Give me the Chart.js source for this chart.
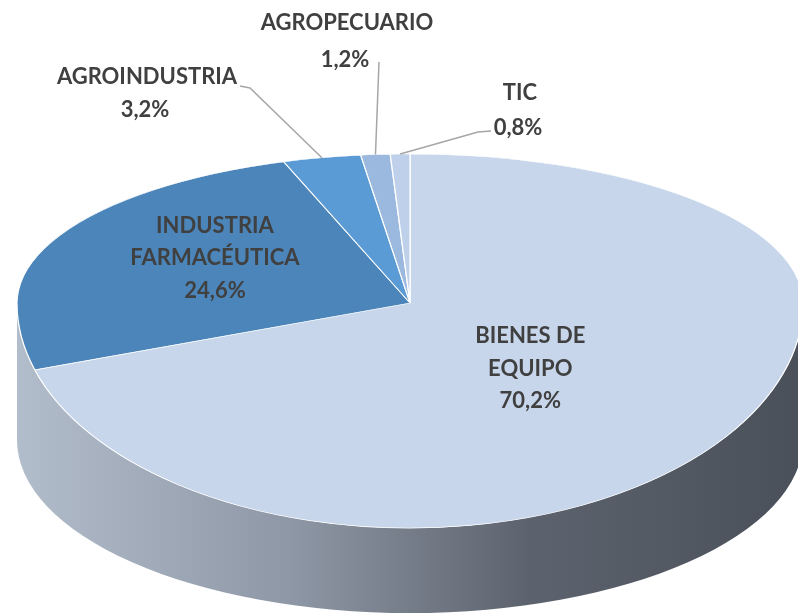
<!DOCTYPE html>
<html lang="es">
<head>
<meta charset="UTF-8">
<title>Distribución por sector</title>
<script src="https://cdn.jsdelivr.net/npm/chart.js@4"></script>
<style>
  html, body { margin: 0; padding: 0; background: #fff; }
  #wrap { width: 798px; height: 613px; position: relative; }
</style>
</head>
<body>
<div id="wrap"><canvas id="pie"></canvas></div>
<script>
const categories = ['BIENES DE EQUIPO', 'INDUSTRIA FARMACÉUTICA', 'AGROINDUSTRIA', 'AGROPECUARIO', 'TIC'];
const labelLines = [['BIENES DE', 'EQUIPO'], ['INDUSTRIA', 'FARMACÉUTICA'], ['AGROINDUSTRIA'], ['AGROPECUARIO'], ['TIC']];
const shares = [70.2, 24.6, 3.2, 1.2, 0.8];
const sliceColors = ['#c7d6ea', '#4b85b9', '#5b9bd5', '#9bb9de', '#bfd1ea'];

// fake 3D: the flat pie is squashed into an ellipse, front half taller than back half
const CX = 410, CY = 303, RX = 393, RY_TOP = 149, RY_BOT = 225;
// bottom edge of the side wall
const WALL_CY = 440, WALL_RY = 173;

function project(angle, f) {
  const s = Math.sin(angle);
  return {
    x: CX + Math.cos(angle) * RX * f,
    y: CY + s * (s < 0 ? RY_TOP : RY_BOT) * f
  };
}

const fmt = v => v.toFixed(1).replace('.', ',') + '%';

const pie3d = {
  id: 'pie3d',
  beforeDatasetsDraw(chart) {
    const ctx = chart.ctx;
    const arcs = chart.getDatasetMeta(0).data;
    const a0 = arcs[0];
    const r = a0.outerRadius;

    // side wall
    ctx.save();
    const g = ctx.createLinearGradient(CX - RX, 0, CX + RX, 0);
    g.addColorStop(0, '#b2bdcc');
    g.addColorStop(0.35, '#8e97a5');
    g.addColorStop(0.65, '#5d636e');
    g.addColorStop(1, '#4a5059');
    ctx.beginPath();
    ctx.ellipse(CX, CY, RX, RY_BOT, 0, 0, Math.PI);
    ctx.lineTo(CX - RX, WALL_CY);
    ctx.ellipse(CX, WALL_CY, RX, WALL_RY, 0, Math.PI, 0, true);
    ctx.closePath();
    ctx.fillStyle = g;
    ctx.fill();
    ctx.restore();

    // top face, back half and front half
    const halves = [[0, CY + 0.5, RY_TOP], [CY - 0.5, chart.height, RY_BOT]];
    halves.forEach(([y0, y1, ry]) => {
      ctx.save();
      ctx.beginPath();
      ctx.rect(0, y0, chart.width, y1 - y0);
      ctx.clip();
      ctx.translate(CX, CY);
      ctx.scale(RX / r, ry / r);
      ctx.translate(-a0.x, -a0.y);
      arcs.forEach(a => a.draw(ctx));
      ctx.restore();
    });
    return false;
  },
  afterDraw(chart) {
    const ctx = chart.ctx;
    const arcs = chart.getDatasetMeta(0).data;
    const mid = i => (arcs[i].startAngle + arcs[i].endAngle) / 2;
    ctx.save();
    ctx.fillStyle = '#404040';
    ctx.textAlign = 'center';
    ctx.textBaseline = 'middle';
    ctx.font = 'bold 22px Lato, "Liberation Sans", sans-serif';

    // inside labels
    [[0, 0.38, 0, 15], [1, 0.557, 0, -7]].forEach(([i, f, dx, dy]) => {
      const p = project(mid(i), f);
      const lines = labelLines[i].concat(fmt(shares[i]));
      const step = 32.5;
      lines.forEach((t, k) => {
        ctx.fillText(t, p.x + dx, p.y + dy + (k - (lines.length - 1) / 2) * step);
      });
    });

    // outside labels with leader lines
    const outside = [
      { i: 2, x: 147, y: 77, step: 33, path: [[240, 86], [250, 88]] },
      { i: 3, x: 347, y: 23, step: 37, path: [[379, 62]] },
      { i: 4, x: 520, y: 93, step: 35, path: [[491, 131], [478, 132]] }
    ];
    ctx.strokeStyle = '#a6a6a6';
    ctx.lineWidth = 1.5;
    outside.forEach(o => {
      ctx.fillText(labelLines[o.i][0], o.x, o.y);
      ctx.fillText(fmt(shares[o.i]), o.x - 2, o.y + o.step);
      const end = project(mid(o.i), 1);
      ctx.beginPath();
      ctx.moveTo(o.path[0][0], o.path[0][1]);
      o.path.slice(1).forEach(p => ctx.lineTo(p[0], p[1]));
      ctx.lineTo(end.x, end.y);
      ctx.stroke();
    });
    ctx.restore();
  }
};

new Chart(document.getElementById('pie'), {
  type: 'pie',
  data: {
    labels: categories,
    datasets: [{
      data: shares,
      backgroundColor: sliceColors,
      borderColor: '#ffffff',
      borderWidth: 1
    }]
  },
  options: {
    responsive: true,
    maintainAspectRatio: false,
    animation: false,
    events: [],
    layout: { padding: 0 },
    plugins: {
      legend: { display: false },
      tooltip: { enabled: false }
    }
  },
  plugins: [pie3d]
});
</script>
</body>
</html>
